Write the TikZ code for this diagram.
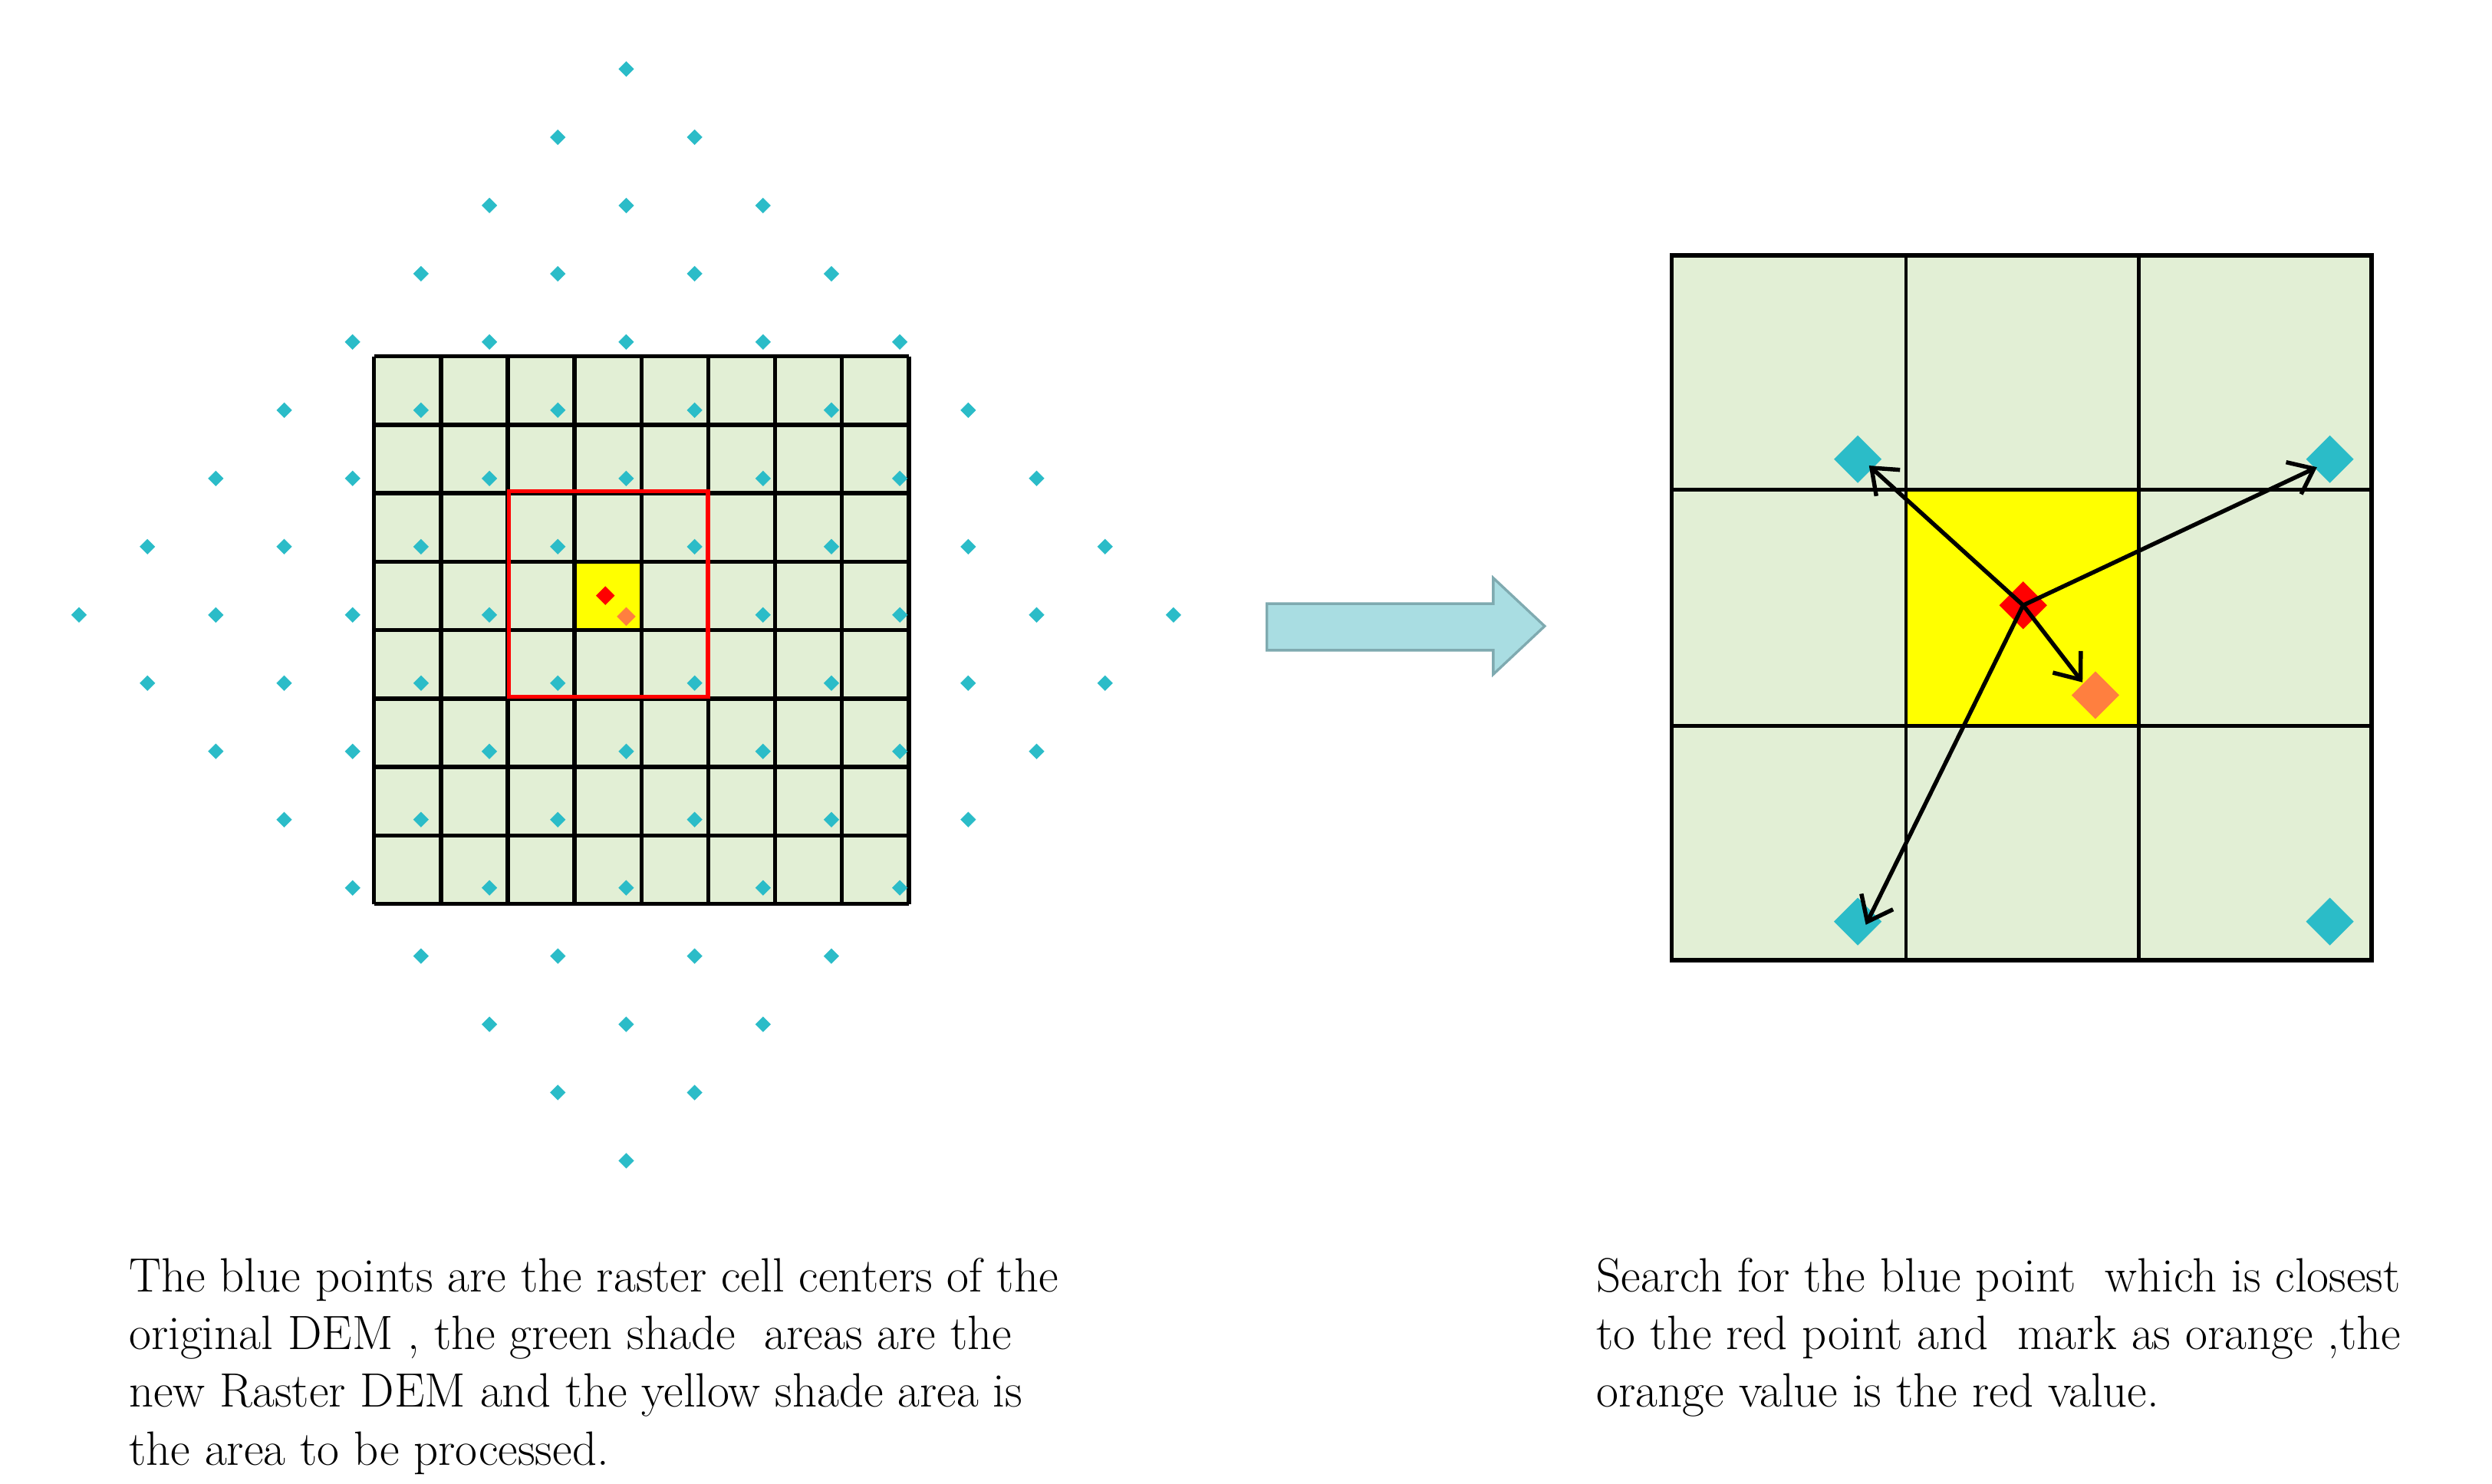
\documentclass[tikz,border=0pt]{standalone}
\usetikzlibrary{arrows.meta,shapes.geometric}
\definecolor{cellg}{HTML}{E2EFD5}
\definecolor{dotb}{HTML}{2BBCC8}
\definecolor{orng}{HTML}{FF7F3F}
\definecolor{arrf}{HTML}{A9DDE2}
\definecolor{arrd}{HTML}{7FAAB0}
\definecolor{yel}{HTML}{FFFF00}
\definecolor{rd}{HTML}{FF0000}
\tikzset{
  sdot/.style={fill=dotb,draw=none,shape=diamond,inner sep=0pt,minimum size=5pt},
  bdot/.style={fill=dotb,draw=none,shape=diamond,inner sep=0pt,minimum size=15pt},
  ptr/.style={line width=1.3pt,-{Straight Barb[length=7pt,width=11pt,line width=1.3pt]}},
  txt/.style={anchor=north west,align=left,inner sep=0pt,font=\fontsize{15}{18}\selectfont}
}
\begin{document}
\begin{tikzpicture}[x=0.5pt,y=-0.5pt]
\useasboundingbox (0,0) rectangle (1552,924);
% left grid
\fill[cellg] (233,222) rectangle (566,563);
\fill[yel] (358.6,349.9) rectangle (400.3,392.5);
\foreach \i in {0,...,8}{
  \draw[line width=1.3pt] ({233+41.625*\i},222) -- ({233+41.625*\i},563);
  \draw[line width=1.3pt] (233,{222+42.625*\i}) -- (566,{222+42.625*\i});
}
\draw[rd,line width=1.3pt] (317,306) rectangle (441,434);
% dots
\foreach \r in {0,...,16}{
  \pgfmathtruncatemacro{\d}{abs(\r-8)}
  \pgfmathtruncatemacro{\mx}{8-\d}
  \foreach \m in {-8,...,8}{
    \pgfmathtruncatemacro{\ok}{(abs(\m)<=\mx) && (mod(abs(\m)+\d,2)==0) && !(\m==0 && \d==0)}
    \ifnum\ok=1
      \node[sdot] at ({390+42.6*\m},{43+42.5*\r}) {};
    \fi
  }
}
\node[sdot,fill=orng,minimum size=6pt] (o1) at (390,384) {};
\node[sdot,fill=rd,minimum size=6pt] (r1) at (377,371) {};
% block arrow
\draw[arrd,fill=arrf,line width=0.8pt] (789,376) -- (930,376) -- (930,360) -- (962,390) -- (930,420) -- (930,405) -- (789,405) -- cycle;
% right grid
\fill[cellg] (1041,159) rectangle (1477,598);
\fill[yel] (1187,305) rectangle (1332,452);
\draw[line width=1.3pt] (1041,159) rectangle (1477,598);
\draw[line width=1.1pt] (1187,159) -- (1187,598) (1332,159) -- (1332,598)
  (1041,305) -- (1477,305) (1041,452) -- (1477,452);
\node[bdot] (b1) at (1157,286) {};
\node[bdot] (b2) at (1451,286) {};
\node[bdot] (b3) at (1157,574) {};
\node[bdot] (b4) at (1451,574) {};
\node[bdot,fill=orng] (o2) at (1305,433) {};
\node[bdot,fill=rd] (r2) at (1260,377) {};
\draw[ptr] (r2.center) -- (1164,290);
\draw[ptr] (r2.center) -- (1443,291);
\draw[ptr] (r2.center) -- (1162,576);
\draw[ptr] (r2.center) -- (1297,425);
% texts
\node[txt] (t1) at (80,783) {The blue points are the raster cell centers of the\\original DEM , the green shade\ \ areas are the\\new Raster DEM and the yellow shade area is\\the area to be processed.};
\node[txt] (t2) at (994,783) {Search for the blue point\ \ which is closest\\to the red point and\ \ mark as orange ,the\\orange value is the red value.};
\end{tikzpicture}
\end{document}
